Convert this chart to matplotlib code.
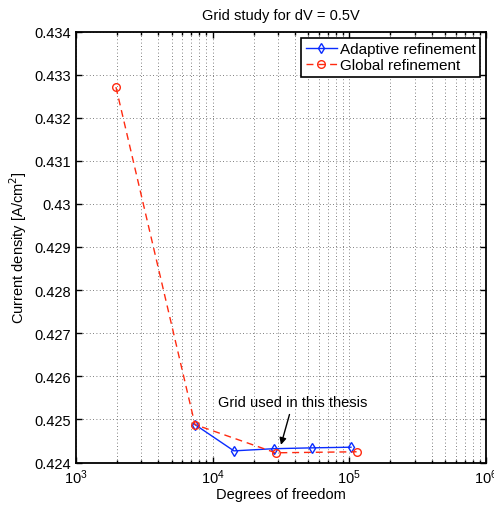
import matplotlib.pyplot as plt
from matplotlib.ticker import LogLocator, NullFormatter

# Data
adaptive_dof = [7420, 14300, 27900, 53600, 102800]
adaptive_current = [0.42488, 0.42427, 0.42432, 0.42434, 0.424355]

global_dof = [1960, 7420, 28900, 113000]
global_current = [0.43271, 0.42488, 0.424225, 0.424249]

y_ticks = [0.424, 0.425, 0.426, 0.427, 0.428, 0.429, 0.43, 0.431, 0.432, 0.433, 0.434]
y_labels = ['0.424', '0.425', '0.426', '0.427', '0.428', '0.429', '0.43',
            '0.431', '0.432', '0.433', '0.434']

plt.rcParams['font.family'] = ['Liberation Sans', 'DejaVu Sans']

fig = plt.figure(figsize=(4.94, 5.06), dpi=100)
ax = fig.add_axes([76 / 494, 1 - 463.5 / 506, 410 / 494, 431 / 506])

ax.plot(adaptive_dof, adaptive_current, color='#0a2cff', lw=1.0, marker='d',
        ms=5, mfc='none', mew=1.0, label='Adaptive refinement')
ax.plot(global_dof, global_current, color='#ff2a10', lw=1.0, ls=(0, (5, 3.5)),
        marker='o', ms=5.5, mfc='none', mew=1.0, label='Global refinement')

ax.set_xscale('log')
ax.set_xlim(1e3, 1e6)
ax.set_ylim(0.424, 0.434)
ax.set_yticks(y_ticks)
ax.set_yticklabels(y_labels)
ax.xaxis.set_minor_locator(LogLocator(base=10, subs=range(2, 10), numticks=20))
ax.xaxis.set_minor_formatter(NullFormatter())

ax.grid(True, which='major', ls=(0, (1, 3)), color='#555555', lw=0.6)
ax.grid(True, which='minor', axis='x', ls=(0, (1, 3)), color='#555555', lw=0.6)

ax.tick_params(which='both', direction='in', top=True, right=True,
               labelsize=10.5, width=1.0)
ax.tick_params(which='major', length=4)
ax.tick_params(which='minor', length=2)
for s in ax.spines.values():
    s.set_linewidth(1.3)

ax.set_title('Grid study for dV = 0.5V', fontsize=10.5, pad=9)
ax.set_xlabel('Degrees of freedom', fontsize=10.5, labelpad=1)
ax.set_ylabel('Current density [A/cm$^2$]', fontsize=10.5, labelpad=4)

ax.annotate('Grid used in this thesis', xy=(31600, 0.42441), xytext=(38700, 0.42524),
            fontsize=10.5, ha='center', va='bottom',
            arrowprops=dict(arrowstyle='-|>', color='black', lw=1.0,
                            mutation_scale=10, shrinkA=2, shrinkB=0))

leg = ax.legend(loc='upper right', fontsize=11, handlelength=2.0,
                borderpad=0.3, labelspacing=0.15, handletextpad=0.2,
                borderaxespad=0.4, fancybox=False, framealpha=1)
leg.get_frame().set_edgecolor('black')
leg.get_frame().set_linewidth(1.2)

plt.savefig('out.png', dpi=100)
